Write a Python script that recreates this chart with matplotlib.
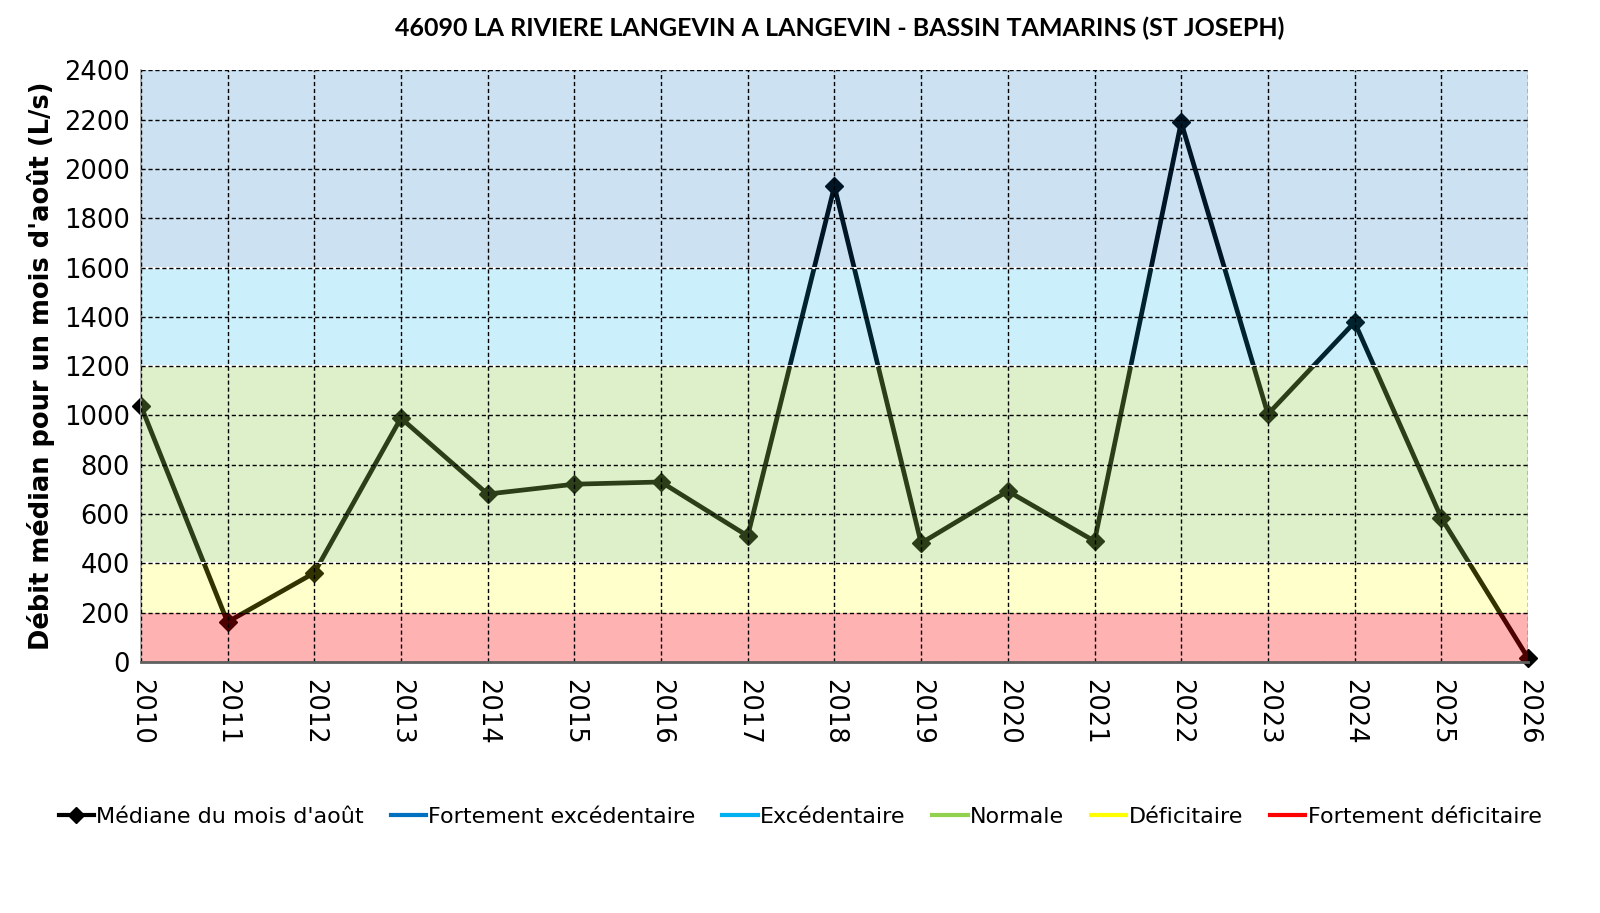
import numpy as np
import matplotlib.pyplot as plt
from matplotlib.lines import Line2D

annees = list(range(2010, 2027))
mediane = [1040, 162, 361, 989, 681, 721, 730, 511, 1929, 482, 693, 490, 2189, 1005, 1378, 584, 16]

# classes de debit (bornes en L/s)
bandes = [
    ('Fortement excédentaire', 1600, 2400, '#0070C0', 0.2),
    ('Excédentaire', 1200, 1600, '#00B0F0', 0.2),
    ('Normale', 400, 1200, '#92D050', 0.3),
    ('Déficitaire', 200, 400, '#FFFF00', 0.2),
    ('Fortement déficitaire', 0, 200, '#FF0000', 0.3),
]

titre = '46090 LA RIVIERE LANGEVIN A LANGEVIN - BASSIN TAMARINS (ST JOSEPH)'
ylab = "Débit médian pour un mois d'août (L/s)"


def main():
    fig = plt.figure(figsize=(16, 9.13), dpi=100)
    ax = fig.add_axes([0.088, 0.275, 0.867, 0.648])

    ax.plot(annees, mediane, color='black', lw=3.4, marker='D', ms=9.5,
            zorder=1, clip_on=False)

    for nom, bas, haut, coul, a in bandes:
        ax.axhspan(bas, haut, facecolor=coul, alpha=a, edgecolor='none', zorder=2)
        if bas > 200:
            ax.axhline(bas, color='white', lw=1.5, zorder=2.2)

    ax.set_xlim(2010, 2026)
    ax.set_ylim(0, 2400)
    ax.set_yticks(np.arange(0, 2401, 200))
    ax.set_xticks(annees)
    ax.set_xticklabels([str(a) for a in annees], rotation=-90)
    ax.tick_params(length=0, labelsize=18.5, colors='black')
    ax.tick_params(axis='x', pad=12)
    ax.tick_params(axis='y', pad=8)

    ax.set_axisbelow(False)
    ax.grid(True, color='black', ls=(0, (3, 2)), lw=1.0)

    for s in ['top', 'right']:
        ax.spines[s].set_visible(False)
    ax.spines['left'].set_color('#a0a0a0')
    ax.spines['left'].set_linewidth(1.2)
    ax.spines['bottom'].set_color('#606060')
    ax.spines['bottom'].set_linewidth(2)
    ax.spines['bottom'].set_zorder(3)

    ax.set_ylabel(ylab, fontsize=18.5, fontweight='bold', labelpad=6)
    fig.text(0.525, 0.969, titre, ha='center', va='center', fontsize=18,
             fontweight='bold', family=['Lato', 'DejaVu Sans'])

    poignees = [Line2D([], [], color='black', lw=3, marker='D', ms=8)]
    noms = ["Médiane du mois d'août"]
    for nom, bas, haut, coul, a in bandes:
        poignees.append(Line2D([], [], color=coul, lw=3))
        noms.append(nom)
    fig.legend(poignees, noms, loc='center', bbox_to_anchor=(0.5, 0.105), ncol=6,
               frameon=False, fontsize=16, handlelength=1.6, handletextpad=0.1,
               columnspacing=1.2)

    fig.savefig('out.png', dpi=100)


if __name__ == '__main__':
    main()
